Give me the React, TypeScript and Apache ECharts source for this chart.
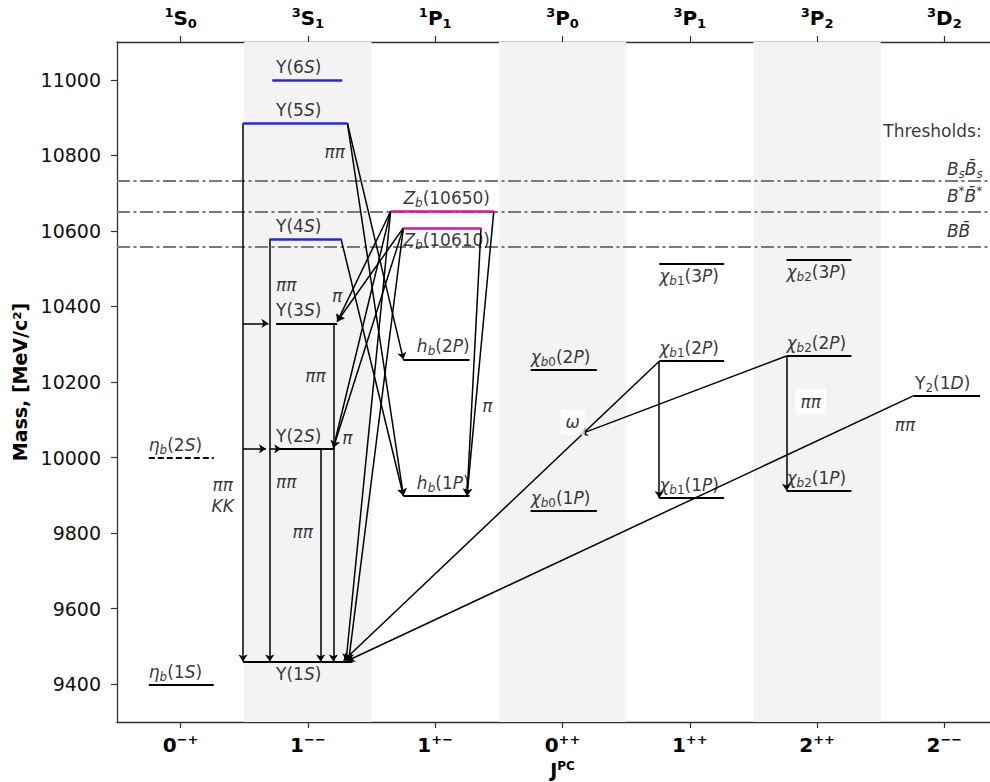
import { useEffect, useRef } from 'react';
import * as echarts from 'echarts';

const FONT = "'DejaVu Sans', sans-serif";

// ---- axes ----
const jpcValue = ['0', '1', '1', '0', '1', '2', '2'];
const jpcParity = ['−+', '−−', '+−', '++', '++', '++', '−−'];
const termMult = ['1', '3', '1', '3', '3', '3', '3'];
const termLetter = ['S', 'S', 'P', 'P', 'P', 'P', 'D'];
const termJ = ['0', '1', '1', '0', '1', '2', '2'];
const yTicks = [9400, 9600, 9800, 10000, 10200, 10400, 10600, 10800, 11000];
const yMin = 9300;
const yMax = 11100;

// ---- states (mass in MeV, extent along the J^PC axis) ----
const levelRich = [
  '{i|η}{si|b}{r|(1}{i|S}{r|)}',
  '{i|η}{si|b}{r|(2}{i|S}{r|)}',
  '{r|Υ(1}{i|S}{r|)}',
  '{r|Υ(2}{i|S}{r|)}',
  '{r|Υ(3}{i|S}{r|)}',
  '{r|Υ(4}{i|S}{r|)}',
  '{r|Υ(5}{i|S}{r|)}',
  '{r|Υ(6}{i|S}{r|)}',
  '{i|Z}{si|b}{r|(10610)}',
  '{i|Z}{si|b}{r|(10650)}',
  '{i|h}{si|b}{r|(1}{i|P}{r|)}',
  '{i|h}{si|b}{r|(2}{i|P}{r|)}',
  '{i|χ}{si|b}{ss|0}{r|(1}{i|P}{r|)}',
  '{i|χ}{si|b}{ss|0}{r|(2}{i|P}{r|)}',
  '{i|χ}{si|b}{ss|1}{r|(1}{i|P}{r|)}',
  '{i|χ}{si|b}{ss|1}{r|(2}{i|P}{r|)}',
  '{i|χ}{si|b}{ss|1}{r|(3}{i|P}{r|)}',
  '{i|χ}{si|b}{ss|2}{r|(1}{i|P}{r|)}',
  '{i|χ}{si|b}{ss|2}{r|(2}{i|P}{r|)}',
  '{i|χ}{si|b}{ss|2}{r|(3}{i|P}{r|)}',
  '{r|Υ}{ss|2}{r|(1}{i|D}{r|)}',
];
const levelMass = [9399, 9999, 9460, 10023, 10355, 10579, 10885, 11000, 10608, 10652, 9899, 10260, 9859, 10232, 9893, 10255, 10513, 9912, 10269, 10524, 10164];
const levelStart = [-0.25, -0.25, 0.49, 0.75, 0.75, 0.7, 0.49, 0.72, 1.75, 1.65, 1.75, 1.75, 2.75, 2.75, 3.76, 3.76, 3.76, 4.76, 4.76, 4.76, 5.76];
const levelEnd = [0.26, 0.26, 1.35, 1.21, 1.23, 1.26, 1.31, 1.27, 2.36, 2.46, 2.27, 2.27, 3.27, 3.27, 4.27, 4.27, 4.27, 5.27, 5.27, 5.27, 6.28];

// ---- transitions [J^PC position, mass] ----
const transFrom = [
  [0.49, 10885], [0.7, 10579], [1.2, 10355], [1.1, 10023],
  [0.49, 10355], [0.49, 10023], [0.7, 10023],
  [1.31, 10885], [1.31, 10885], [1.26, 10579],
  [1.65, 10652], [1.65, 10652], [1.65, 10652],
  [1.75, 10608], [1.75, 10608], [1.75, 10608],
  [2.46, 10652], [2.36, 10608],
  [3.76, 10255], [4.76, 10269], [5.76, 10164],
  [3.76, 10255], [4.76, 10269],
];
const transTo = [
  [0.49, 9460], [0.7, 9460], [1.2, 9460], [1.1, 9460],
  [0.69, 10355], [0.67, 10023], [0.79, 10023],
  [1.75, 10260], [1.75, 9899], [1.75, 9899],
  [1.23, 10360], [1.2, 10026], [1.3, 9462],
  [1.23, 10360], [1.2, 10026], [1.32, 9462],
  [2.25, 9899], [2.25, 9899],
  [1.28, 9462], [3.14, 10062], [1.31, 9462],
  [3.76, 9893], [4.76, 9912],
];

// ---- decay-mode notes ----
const noteText = ['ππ', 'ππ', 'π', 'ππ', 'π', 'ππ', 'ππ', 'ππ', 'KK', 'π', 'ω', 'ππ', 'ππ'];
const noteX = [1.21, 0.83, 1.23, 1.06, 1.31, 0.83, 0.96, 0.33, 0.33, 2.41, 3.08, 4.95, 5.69];
const noteMass = [10809, 10457, 10428, 10216, 10052, 9935, 9803, 9927, 9872, 10136, 10094, 10147, 10086];
const noteBoxed = [false, false, false, false, false, false, false, false, false, false, true, true, false];

// ---- thresholds ----
const thresholdMass = [10733, 10650, 10559];
const thresholdRich = ['{i|B}{si|s}{i|B\u0304}{si|s}', '{i|B}{sp|*}{i|B\u0304}{sp|*}', '{i|BB\u0304}'];
const thresholdLabelMass = [10764, 10693, 10600];
const thresholdTitle = 'Thresholds:';

// shaded J^PC columns
const bandColumns = [1, 3, 5];

// label placement (layout)
const levelLabelAt = [-0.25, -0.25, 0.75, 0.75, 0.75, 0.75, 0.75, 0.75, 1.75, 1.75, 2.27, 2.27, 2.75, 2.75, 3.76, 3.76, 3.76, 4.76, 4.76, 4.76, 5.77];
const levelLabelBelow = [2, 8, 16, 19];
const levelLabelRight = [10, 11];

const TXT = '#000000';
const rich: any = {
  r: { fontSize: 17, fontFamily: FONT, color: TXT, lineHeight: 22 },
  i: { fontSize: 17, fontFamily: FONT, color: TXT, fontStyle: 'italic', lineHeight: 22 },
  si: { fontSize: 12, fontFamily: FONT, color: TXT, fontStyle: 'italic', verticalAlign: 'bottom', lineHeight: 12 },
  ss: { fontSize: 12, fontFamily: FONT, color: TXT, verticalAlign: 'bottom', lineHeight: 12 },
  sp: { fontSize: 12, fontFamily: FONT, color: TXT, fontStyle: 'italic', verticalAlign: 'top', lineHeight: 12 },
};

const axisRich: any = {
  b: { fontSize: 20, fontWeight: 'bold', fontFamily: FONT, color: '#000', lineHeight: 24 },
  sp: { fontSize: 13, fontWeight: 'bold', fontFamily: FONT, color: '#000', verticalAlign: 'top', lineHeight: 13 },
  sb: { fontSize: 13, fontWeight: 'bold', fontFamily: FONT, color: '#000', verticalAlign: 'bottom', lineHeight: 13 },
};

const nameRich: any = {
  b: { fontSize: 19, fontWeight: 'bold', fontFamily: FONT, color: '#000', lineHeight: 20 },
  sp: { fontSize: 12, fontWeight: 'bold', fontFamily: FONT, color: '#000', verticalAlign: 'top', lineHeight: 12 },
};

function buildOption(): any {
  const idx = jpcValue.map((_, i) => i);
  const AX = '#333';

  const levelData = levelMass.map((m, i) => {
    let color = '#000';
    let width = 2;
    if (i >= 5 && i <= 7) { color = '#2727e0'; width = 2.5; }
    if (i === 8 || i === 9) { color = '#e0148f'; width = 2.5; }
    return {
      coords: [[levelStart[i], m], [levelEnd[i], m]],
      lineStyle: { color, width, type: i === 1 ? [6, 3] : 'solid' },
    };
  });

  const transData = transFrom.map((f, i) => ({ coords: [f, transTo[i]] }));

  const thrData = thresholdMass.map((m) => ({ coords: [[-0.5, m], [6.5, m]] }));

  const labelItems: any[] = [];
  levelRich.forEach((t, i) => {
    const below = levelLabelBelow.includes(i);
    const right = levelLabelRight.includes(i);
    labelItems.push({
      value: [levelLabelAt[i], levelMass[i]],
      label: {
        show: true,
        formatter: t,
        position: below ? 'bottom' : 'top',
        align: right ? 'right' : 'left',
        distance: below ? 1 : 2,
      },
    });
  });
  noteText.forEach((t, i) => {
    labelItems.push({
      value: [noteX[i], noteMass[i]],
      label: {
        show: true,
        formatter: `{i|${t}}`,
        position: 'inside',
        align: 'center',
        verticalAlign: 'middle',
        backgroundColor: noteBoxed[i] ? '#ffffff' : 'transparent',
        padding: noteBoxed[i] ? [2, 5] : 0,
      },
    });
  });
  thresholdRich.forEach((t, i) => {
    labelItems.push({
      value: [6.02, thresholdLabelMass[i]],
      label: { show: true, formatter: t, position: 'right', distance: 0 },
    });
  });
  labelItems.push({
    value: [5.52, 10865],
    label: { show: true, formatter: `{r|${thresholdTitle}}`, position: 'right', distance: 0 },
  });

  const xBase = {
    type: 'value',
    min: -0.5,
    max: 6.5,
    splitLine: { show: false },
    axisLine: { show: true, onZero: false, lineStyle: { color: AX, width: 1.3 } },
    axisTick: { show: true, customValues: idx, length: 6, lineStyle: { color: AX, width: 1.2 } },
  };

  return {
    animation: false,
    backgroundColor: '#ffffff',
    grid: { left: 117, top: 42, right: -18, bottom: 60, containLabel: false, outerBoundsMode: 'none' },
    xAxis: [
      {
        ...xBase,
        position: 'bottom',
        axisLabel: {
          customValues: idx,
          margin: 11,
          formatter: (v: number) => {
            const k = Math.round(v);
            return `{b|${jpcValue[k]}}{sp|${jpcParity[k]}}`;
          },
          rich: axisRich,
        },
        name: '{b|J}{sp|PC}',
        nameLocation: 'middle',
        nameGap: 28,
        nameTextStyle: { rich: nameRich },
      },
      {
        ...xBase,
        position: 'top',
        axisLabel: {
          customValues: idx,
          margin: 12,
          formatter: (v: number) => {
            const k = Math.round(v);
            return `{sp|${termMult[k]}}{b|${termLetter[k]}}{sb|${termJ[k]}}`;
          },
          rich: axisRich,
        },
      },
    ],
    yAxis: {
      type: 'value',
      min: yMin,
      max: yMax,
      splitLine: { show: false },
      axisLine: { show: true, onZero: false, lineStyle: { color: AX, width: 1.3 } },
      axisTick: { show: true, customValues: yTicks, length: 6, lineStyle: { color: AX, width: 1.2 } },
      axisLabel: {
        customValues: yTicks,
        margin: 16,
        fontSize: 19,
        fontFamily: FONT,
        color: '#111',
        formatter: (v: number) => String(v),
      },
      name: 'Mass, [MeV/c²]',
      nameLocation: 'middle',
      nameGap: 84,
      nameTextStyle: { fontSize: 19, fontWeight: 'bold', fontFamily: FONT, color: '#000' },
    },
    series: [
      {
        type: 'line',
        xAxisIndex: 0,
        data: [],
        silent: true,
        markArea: {
          silent: true,
          itemStyle: { color: '#f3f3f3' },
          data: bandColumns.map((c) => [{ xAxis: c - 0.5 }, { xAxis: c + 0.5 }]),
        },
      },
      {
        type: 'lines',
        coordinateSystem: 'cartesian2d',
        xAxisIndex: 0,
        silent: true,
        z: 2,
        lineStyle: { color: '#7a7a7a', width: 2, type: [13, 3.5, 3, 3.5], opacity: 1 },
        data: thrData,
      },
      {
        type: 'lines',
        coordinateSystem: 'cartesian2d',
        xAxisIndex: 0,
        silent: true,
        z: 3,
        symbol: ['none', 'arrow'],
        symbolSize: 7,
        lineStyle: { color: '#000', width: 1.5, opacity: 1 },
        data: transData,
      },
      {
        type: 'lines',
        coordinateSystem: 'cartesian2d',
        xAxisIndex: 0,
        silent: true,
        z: 4,
        lineStyle: { opacity: 1 },
        data: levelData,
      },
      {
        type: 'scatter',
        xAxisIndex: 0,
        silent: true,
        z: 6,
        symbolSize: 0,
        itemStyle: { color: 'transparent' },
        label: { show: true, rich },
        data: labelItems,
      },
    ],
  };
}

export default function App() {
  const ref = useRef<HTMLDivElement>(null);
  useEffect(() => {
    const chart = echarts.init(ref.current!, null, { renderer: 'svg' });
    chart.setOption(buildOption());
    return () => chart.dispose();
  }, []);
  return (
    <div
      ref={ref}
      style={{ position: 'fixed', left: 0, top: 0, width: 990, height: 782, background: '#fff' }}
    />
  );
}
